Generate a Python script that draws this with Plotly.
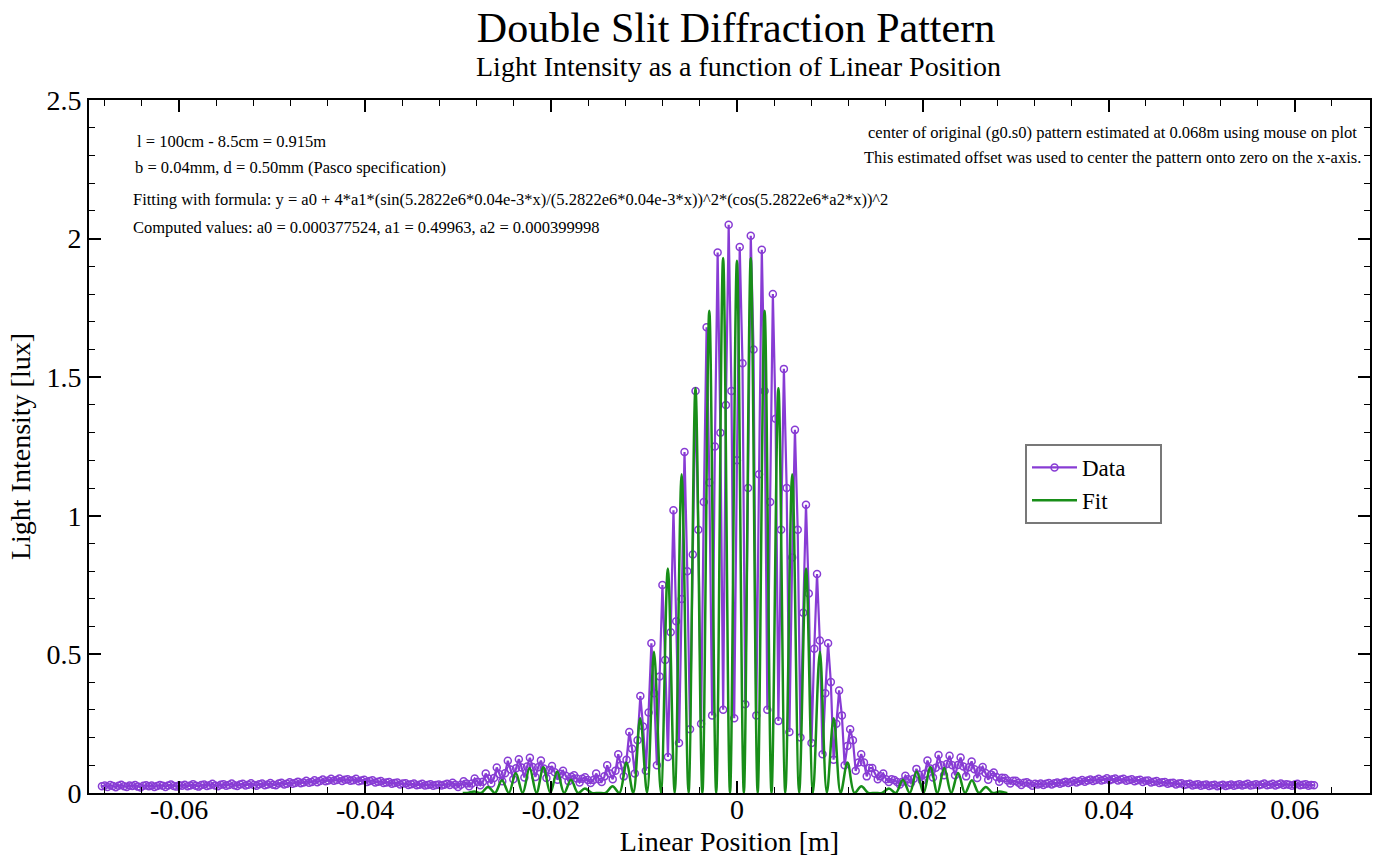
import numpy as np
import plotly.graph_objects as go

# ---------------- data ----------------
# measured data: evenly sampled positions, value of sample with index i_ref is at data_x_ref
data_dx = 0.000297
data_x_ref = 0.0003

tail_left_y = [
    0.024, 0.027, 0.022, 0.029, 0.025, 0.021, 0.026, 0.030, 0.024, 0.022,
    0.027, 0.025, 0.029, 0.023, 0.020, 0.026, 0.028, 0.024, 0.027, 0.022,
    0.025, 0.029, 0.026, 0.022, 0.027, 0.031, 0.025, 0.023, 0.028, 0.026,
    0.030, 0.024, 0.027, 0.032, 0.026, 0.023, 0.029, 0.031, 0.025, 0.028,
    0.033, 0.027, 0.024, 0.030, 0.032, 0.026, 0.029, 0.034, 0.028, 0.025,
    0.031, 0.033, 0.027, 0.030, 0.035, 0.029, 0.026, 0.032, 0.034, 0.028,
    0.031, 0.036, 0.030, 0.028, 0.034, 0.037, 0.031, 0.033, 0.039, 0.033,
    0.036, 0.041, 0.035, 0.038, 0.044, 0.037, 0.040, 0.046, 0.039, 0.043,
    0.049, 0.042, 0.045, 0.051, 0.044, 0.047, 0.052, 0.043, 0.048, 0.050,
    0.044, 0.046, 0.051, 0.042, 0.045, 0.048, 0.040, 0.043, 0.046, 0.038,
    0.041, 0.043, 0.036, 0.038, 0.040, 0.033, 0.036, 0.038, 0.031, 0.034,
    0.035, 0.029, 0.032, 0.034, 0.028, 0.030, 0.033, 0.027, 0.029, 0.032,
    0.026, 0.029, 0.031, 0.027, 0.030, 0.033, 0.029,
]

lobe_left_y = [
    0.037, 0.030, 0.022, 0.030,
    0.042, 0.034, 0.024, 0.034,
    0.052, 0.041, 0.028, 0.041,
    0.070, 0.052, 0.034, 0.054,
    0.092, 0.068, 0.042, 0.071,
    0.116, 0.085, 0.050, 0.089,
    0.122, 0.092, 0.056, 0.096,
    0.127, 0.094, 0.058, 0.093,
    0.117, 0.088, 0.054, 0.083,
    0.097, 0.075, 0.048, 0.069,
    0.080, 0.062, 0.042, 0.059,
    0.064, 0.052, 0.038, 0.051,
    0.057, 0.047, 0.036, 0.047,
]

central_y = [
    0.07, 0.05, 0.04, 0.06,
    0.10, 0.07, 0.05, 0.08,
    0.14, 0.10, 0.06, 0.12,
    0.22, 0.16, 0.07, 0.19,
    0.35, 0.24, 0.08, 0.29,
    0.54, 0.36, 0.10, 0.42,
    0.75, 0.48, 0.13, 0.58,
    1.02, 0.62, 0.18, 0.70,
    1.23, 0.80, 0.23, 0.86,
    1.45, 0.95, 0.25, 1.05,
    1.68, 1.12, 0.28, 1.25,
    1.95, 1.30, 0.30, 1.40,
    2.05, 1.45, 0.27, 1.20,
    1.97, 1.55, 0.32, 1.10,
    2.01, 1.60, 0.28, 1.15,
    1.96, 1.45, 0.30, 1.05,
    1.80, 1.35, 0.26, 0.95,
    1.53, 1.10, 0.22, 0.85,
    1.31, 0.95, 0.20, 0.65,
    1.04, 0.72, 0.18, 0.52,
    0.79, 0.55, 0.14, 0.36,
    0.54, 0.40, 0.12, 0.25,
    0.37, 0.28, 0.10, 0.17,
    0.23, 0.19, 0.08, 0.11,
    0.14, 0.11, 0.06, 0.09,
    0.09, 0.07, 0.05, 0.06,
    0.07, 0.05, 0.04, 0.05,
]

lobe_right_y = [
    0.047, 0.040, 0.031, 0.041,
    0.062, 0.050, 0.036, 0.051,
    0.087, 0.066, 0.044, 0.069,
    0.117, 0.088, 0.056, 0.091,
    0.137, 0.100, 0.064, 0.105,
    0.134, 0.100, 0.064, 0.101,
    0.128, 0.096, 0.060, 0.093,
    0.114, 0.086, 0.054, 0.081,
    0.094, 0.072, 0.048, 0.067,
    0.074, 0.058, 0.041, 0.055,
    0.054, 0.045, 0.034, 0.044,
    0.044, 0.037, 0.029, 0.037,
    0.039, 0.033, 0.026, 0.033,
]

tail_right_y = [
    0.031, 0.034, 0.029, 0.033, 0.036, 0.031, 0.035, 0.038, 0.033, 0.037,
    0.041, 0.036, 0.040, 0.044, 0.038, 0.042, 0.047, 0.041, 0.045, 0.049,
    0.043, 0.047, 0.051, 0.045, 0.048, 0.053, 0.046, 0.050, 0.052, 0.045,
    0.049, 0.051, 0.044, 0.047, 0.050, 0.042, 0.046, 0.048, 0.040, 0.044,
    0.045, 0.038, 0.041, 0.043, 0.036, 0.039, 0.040, 0.033, 0.036, 0.037,
    0.031, 0.034, 0.035, 0.029, 0.032, 0.033, 0.027, 0.030, 0.032, 0.026,
    0.029, 0.031, 0.025, 0.028, 0.030, 0.024, 0.027, 0.030, 0.025, 0.028,
    0.031, 0.026, 0.029, 0.032, 0.027, 0.030, 0.033, 0.027, 0.029, 0.032,
    0.028, 0.031, 0.034, 0.028, 0.030, 0.033, 0.027, 0.031, 0.034, 0.029,
    0.032, 0.030, 0.026, 0.031, 0.033, 0.028, 0.030, 0.032, 0.026, 0.029,
    0.028,
]

# fit curve (peaks and minima)
fit_x = [-0.02950, -0.028997, -0.028253, -0.027510, -0.026766, -0.026023, -0.025279, -0.024536,
         -0.023792, -0.023049, -0.022305, -0.021562, -0.020818, -0.020075, -0.019331, -0.018588,
         -0.017844, -0.017101, -0.016357, -0.015614, -0.014870, -0.014127, -0.013383, -0.012640,
         -0.011896, -0.011153, -0.010409, -0.009666, -0.008922, -0.008179, -0.007435, -0.006692,
         -0.005948, -0.005205, -0.004461, -0.003718, -0.002974, -0.002231, -0.001487, -0.000744,
         0.0,
         0.000744, 0.001487, 0.002231, 0.002974, 0.003718, 0.004461, 0.005205, 0.005948,
         0.006692, 0.007435, 0.008179, 0.008922, 0.009666, 0.010409, 0.011153, 0.011896,
         0.012640, 0.013383, 0.014127, 0.014870, 0.015614, 0.016357, 0.017101, 0.017844,
         0.018588, 0.019331, 0.020075, 0.020818, 0.021562, 0.022305, 0.023049, 0.023792,
         0.024536, 0.025279, 0.026023, 0.026766, 0.027510, 0.028253, 0.028997, 0.02910]
fit_y = [0.0004, 0.0004, 0.005, 0.0004, 0.022, 0.0004, 0.046, 0.0004,
         0.072, 0.0004, 0.090, 0.0004, 0.093, 0.0004, 0.078, 0.0004,
         0.048, 0.0004, 0.016, 0.0004, 0.0004, 0.0004, 0.024, 0.0004,
         0.11, 0.0004, 0.27, 0.0004, 0.51, 0.0004, 0.81, 0.0004,
         1.15, 0.0004, 1.46, 0.0004, 1.74, 0.0004, 1.93, 0.0004,
         1.92,
         0.0004, 1.93, 0.0004, 1.74, 0.0004, 1.46, 0.0004, 1.15,
         0.0004, 0.81, 0.0004, 0.51, 0.0004, 0.27, 0.0004, 0.11,
         0.0004, 0.024, 0.0004, 0.0004, 0.0004, 0.016, 0.0004, 0.048,
         0.0004, 0.078, 0.0004, 0.093, 0.0004, 0.090, 0.0004, 0.072,
         0.0004, 0.046, 0.0004, 0.022, 0.0004, 0.005, 0.0004, 0.0004]

x_tick_vals = [-0.06, -0.04, -0.02, 0.0, 0.02, 0.04, 0.06]
x_tick_text = ["-0.06", "-0.04", "-0.02", "0", "0.02", "0.04", "0.06"]
y_tick_vals = [0, 0.5, 1.0, 1.5, 2.0, 2.5]
y_tick_text = ["0", "0.5", "1", "1.5", "2", "2.5"]

# ---------------- figure ----------------
data_y = tail_left_y + lobe_left_y + central_y + lobe_right_y + tail_right_y
i_ref = len(tail_left_y) + len(lobe_left_y) + 52
data_x = data_x_ref + data_dx * (np.arange(len(data_y)) - i_ref)

SERIF = "Liberation Serif, Times New Roman, serif"
PURPLE = "rgb(136,60,212)"
GREEN = "rgb(24,142,24)"

fig = go.Figure()
fig.add_trace(go.Scatter(
    x=data_x, y=data_y, mode="lines+markers", name="Data\u00a0\u00a0\u00a0\u00a0\u00a0",
    line=dict(color=PURPLE, width=2.2),
    marker=dict(symbol="circle-open", size=7, color=PURPLE,
                line=dict(color=PURPLE, width=1.5)),
))
fig.add_trace(go.Scatter(
    x=fit_x, y=fit_y, mode="lines", name="Fit",
    line=dict(color=GREEN, width=2.5, shape="spline", smoothing=1.0),
))

L, R, T, B = 89, 25, 100, 64
W, H = 1395, 857
pw, ph = W - L - R, H - T - B


def px(xp):
    return (xp - L) / pw


def py(yp):
    return (H - B - yp) / ph


ann_font = dict(family=SERIF, size=16.5, color="black")
annotations = [
    dict(text="l = 100cm - 8.5cm = 0.915m", x=px(135), y=py(141)),
    dict(text="b = 0.04mm, d = 0.50mm (Pasco specification)", x=px(133), y=py(167)),
    dict(text="Fitting with formula: y = a0 + 4*a1*(sin(5.2822e6*0.04e-3*x)/(5.2822e6*0.04e-3*x))^2*(cos(5.2822e6*a2*x))^2",
         x=px(131), y=py(200)),
    dict(text="Computed values: a0 = 0.000377524, a1 = 0.49963, a2 = 0.000399998", x=px(131), y=py(227)),
]
for a in annotations:
    a.update(xref="paper", yref="paper", xanchor="left", yanchor="middle",
             showarrow=False, font=ann_font)
for txt, yy in [("center of original (g0.s0) pattern estimated at 0.068m using mouse on plot", 132),
                ("This estimated offset was used to center the pattern onto zero on the x-axis.", 157)]:
    annotations.append(dict(text=txt, x=px(1112), y=py(yy), xref="paper", yref="paper",
                            xanchor="center", yanchor="middle", showarrow=False, font=ann_font))
annotations.append(dict(text="Light Intensity as a function of Linear Position", x=px(738), y=py(66),
                        xref="paper", yref="paper", xanchor="center", yanchor="middle",
                        showarrow=False, font=dict(family=SERIF, size=28, color="black")))

axis_common = dict(
    showline=True, linecolor="black", linewidth=2, mirror="allticks",
    ticks="inside", ticklen=12, tickwidth=1.5, tickcolor="black",
    showgrid=False, zeroline=False,
    tickfont=dict(family=SERIF, size=28, color="black"),
)

fig.update_layout(
    width=W, height=H,
    margin=dict(l=L, r=R, t=T, b=B),
    paper_bgcolor="white", plot_bgcolor="white",
    title=dict(text="Double Slit Diffraction Pattern", x=736 / W, xanchor="center",
               y=1 - 27 / H, yanchor="middle",
               font=dict(family=SERIF, size=42, color="black")),
    xaxis=dict(range=[-0.0697, 0.0681], tickvals=x_tick_vals, ticktext=x_tick_text,
               ticklabelstandoff=-10,
               minor=dict(dtick=0.004, tick0=0, ticks="inside", ticklen=6, tickwidth=1.2,
                          tickcolor="black", showgrid=False),
               title=dict(text="Linear Position [m]", standoff=14,
                          font=dict(family=SERIF, size=28, color="black")),
               automargin=False, **axis_common),
    yaxis=dict(range=[0, 2.5], tickvals=y_tick_vals, ticktext=y_tick_text,
               minor=dict(dtick=0.1, tick0=0, ticks="inside", ticklen=6, tickwidth=1.2,
                          tickcolor="black", showgrid=False),
               title=dict(text="Light Intensity [lux]", standoff=8,
                          font=dict(family=SERIF, size=28, color="black")),
               automargin=False, **axis_common),
    legend=dict(x=px(1025), y=py(444), xanchor="left", yanchor="top",
                bgcolor="white", bordercolor="rgb(120,120,120)", borderwidth=2,
                font=dict(family=SERIF, size=23, color="black"),
                itemwidth=45, tracegroupgap=0),
    annotations=annotations,
    showlegend=True,
)

fig.write_html(
    "out.html",
    config={"displayModeBar": False},
    post_script="document.body.style.margin='0px';document.body.style.overflow='hidden';",
)
